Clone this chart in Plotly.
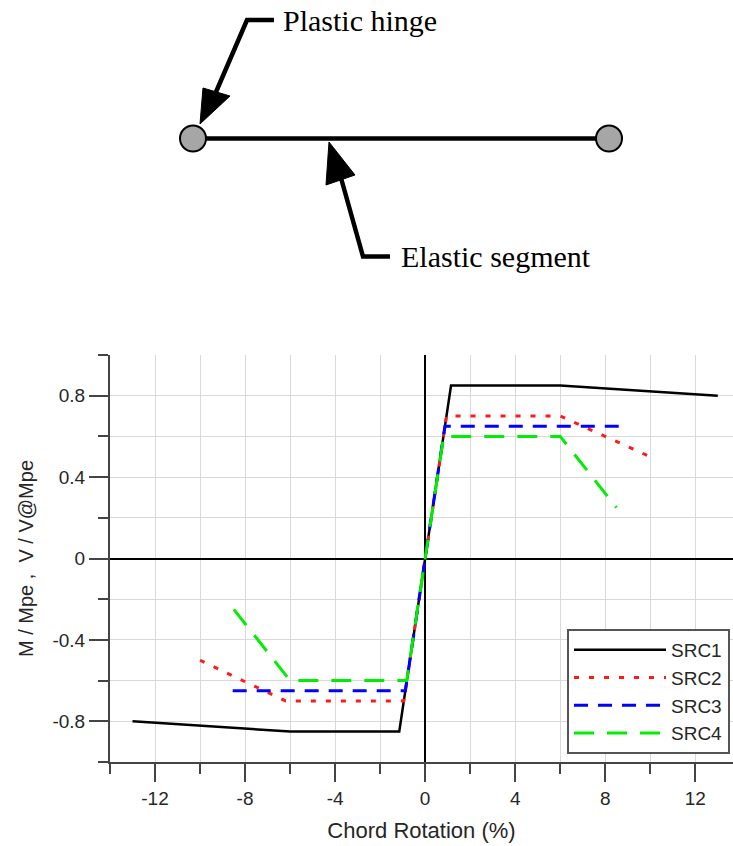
import plotly.graph_objects as go

W, H = 733, 846

# ---- data ----
series_names = ["SRC1", "SRC2", "SRC3", "SRC4"]
src1_x = [-13, -6, -1.15, 1.15, 6, 13]
src1_y = [-0.80, -0.85, -0.85, 0.85, 0.85, 0.80]
src2_x = [-10, -6.2, -0.95, 0.95, 6, 10]
src2_y = [-0.50, -0.70, -0.70, 0.70, 0.70, 0.50]
src3_x = [-8.55, -0.88, 0.88, 8.6]
src3_y = [-0.65, -0.65, 0.65, 0.65]
src4_x = [-8.5, -6, -0.82, 0.82, 6, 8.5]
src4_y = [-0.25, -0.60, -0.60, 0.60, 0.60, 0.25]

x_tickvals = [-12, -8, -4, 0, 4, 8, 12]
x_ticktext = ["-12", "-8", "-4", "0", "4", "8", "12"]
y_tickvals = [-0.8, -0.4, 0, 0.4, 0.8]
y_ticktext = ["-0.8", "-0.4", "0", "0.4", "0.8"]

# ---- styles ----
styles = [
    dict(color="#000000", width=2.5, dash="solid"),
    dict(color="#ff1a1a", width=3, dash="5px,10px"),
    dict(color="#0000ff", width=3, dash="14px,10px"),
    dict(color="#00ee00", width=3, dash="20px,13px"),
]
xs = [src1_x, src2_x, src3_x, src4_x]
ys = [src1_y, src2_y, src3_y, src4_y]

fig = go.Figure()
for name, x, y, st in zip(series_names, xs, ys, styles):
    fig.add_trace(go.Scatter(x=x, y=y, mode="lines", name=name, line=st))

FONT = "Arial, Liberation Sans, sans-serif"
grid = "#d9d9d9"
axc = "#444444"
txt = "#262626"

fig.update_layout(
    width=W, height=H,
    margin=dict(l=0, r=0, t=0, b=0, autoexpand=False),
    paper_bgcolor="white", plot_bgcolor="white",
    font=dict(family=FONT, size=19, color=txt),
    xaxis=dict(
        domain=[110 / W, 1.0], range=[-14, (733 - 425.3) / 22.5],
        tickmode="array", tickvals=x_tickvals, ticktext=x_ticktext,
        ticks="outside", ticklen=18, tickwidth=2, tickcolor=axc,
        showline=True, linecolor=axc, linewidth=2,
        showgrid=True, gridcolor=grid, gridwidth=1,
        zeroline=True, zerolinecolor="#000", zerolinewidth=2,
        minor=dict(dtick=2, tick0=0, ticks="outside", ticklen=10, tickwidth=2,
                   tickcolor=axc, showgrid=True, gridcolor=grid, gridwidth=1),
        tickfont=dict(size=19, color=txt),
        title=dict(text="Chord Rotation (%)", font=dict(size=22, color=txt), standoff=15),
        automargin=False, fixedrange=True,
    ),
    yaxis=dict(
        domain=[(H - 762) / H, (H - 355) / H], range=[-1, 1],
        tickmode="array", tickvals=y_tickvals, ticktext=y_ticktext,
        ticks="outside", ticklen=19, tickwidth=2, tickcolor=axc,
        showline=True, linecolor=axc, linewidth=2,
        showgrid=True, gridcolor=grid, gridwidth=1,
        zeroline=True, zerolinecolor="#000", zerolinewidth=2,
        minor=dict(dtick=0.2, tick0=0, ticks="outside", ticklen=10, tickwidth=2,
                   tickcolor=axc, showgrid=True, gridcolor=grid, gridwidth=1),
        tickfont=dict(size=19, color=txt),
        title=dict(text="M / Mpe ,  V / V@Mpe", font=dict(size=20, color=txt), standoff=13),
        automargin=False, fixedrange=True,
    ),
    legend=dict(
        x=567 / W, y=1 - 629 / H, xanchor="left", yanchor="top",
        bgcolor="white", bordercolor="#555", borderwidth=2,
        font=dict(size=19, color=txt), itemwidth=92, tracegroupgap=0,
    ),
    showlegend=True,
)

# ---- top diagram (schematic, in figure pixel coordinates) ----
def px(x):
    return x / W

def py(y):
    return 1 - y / H

def path(points, close=False):
    s = "M " + " L ".join(f"{px(a):.5f},{py(b):.5f}" for a, b in points)
    return s + (" Z" if close else "")

shapes = []
# beam
shapes.append(dict(type="line", xref="paper", yref="paper",
                   x0=px(193), y0=py(138.5), x1=px(609), y1=py(138.5),
                   line=dict(color="black", width=4.5)))
# hinges
r = 13
for cx in (193, 609):
    shapes.append(dict(type="circle", xref="paper", yref="paper",
                       x0=px(cx - r), x1=px(cx + r), y0=py(138.5 + r), y1=py(138.5 - r),
                       fillcolor="#a6a6a6", line=dict(color="black", width=2)))
# plastic hinge leader
shapes.append(dict(type="path", xref="paper", yref="paper",
                   path=path([(274, 20), (247, 20), (216, 92)]),
                   line=dict(color="black", width=4.5)))
shapes.append(dict(type="path", xref="paper", yref="paper",
                   path=path([(200, 124), (203, 88), (230, 96)], close=True),
                   fillcolor="black", line=dict(color="black", width=1)))
# elastic segment leader
shapes.append(dict(type="path", xref="paper", yref="paper",
                   path=path([(390, 256.5), (363, 256.5), (341, 178)]),
                   line=dict(color="black", width=4.5)))
shapes.append(dict(type="path", xref="paper", yref="paper",
                   path=path([(329, 142), (326, 185), (355, 175)], close=True),
                   fillcolor="black", line=dict(color="black", width=1)))
fig.update_layout(shapes=shapes)

SERIF = "Liberation Serif, DejaVu Serif, serif"
fig.add_annotation(x=px(281), y=py(20), xref="paper", yref="paper", text="Plastic hinge",
                   showarrow=False, xanchor="left", yanchor="middle",
                   font=dict(family=SERIF, size=30, color="black"))
fig.add_annotation(x=px(399), y=py(256), xref="paper", yref="paper", text="Elastic segment",
                   showarrow=False, xanchor="left", yanchor="middle",
                   font=dict(family=SERIF, size=30, color="black"))

fig.write_html("out.html", config={"displayModeBar": False},
               post_script="document.body.style.margin='0px';")
